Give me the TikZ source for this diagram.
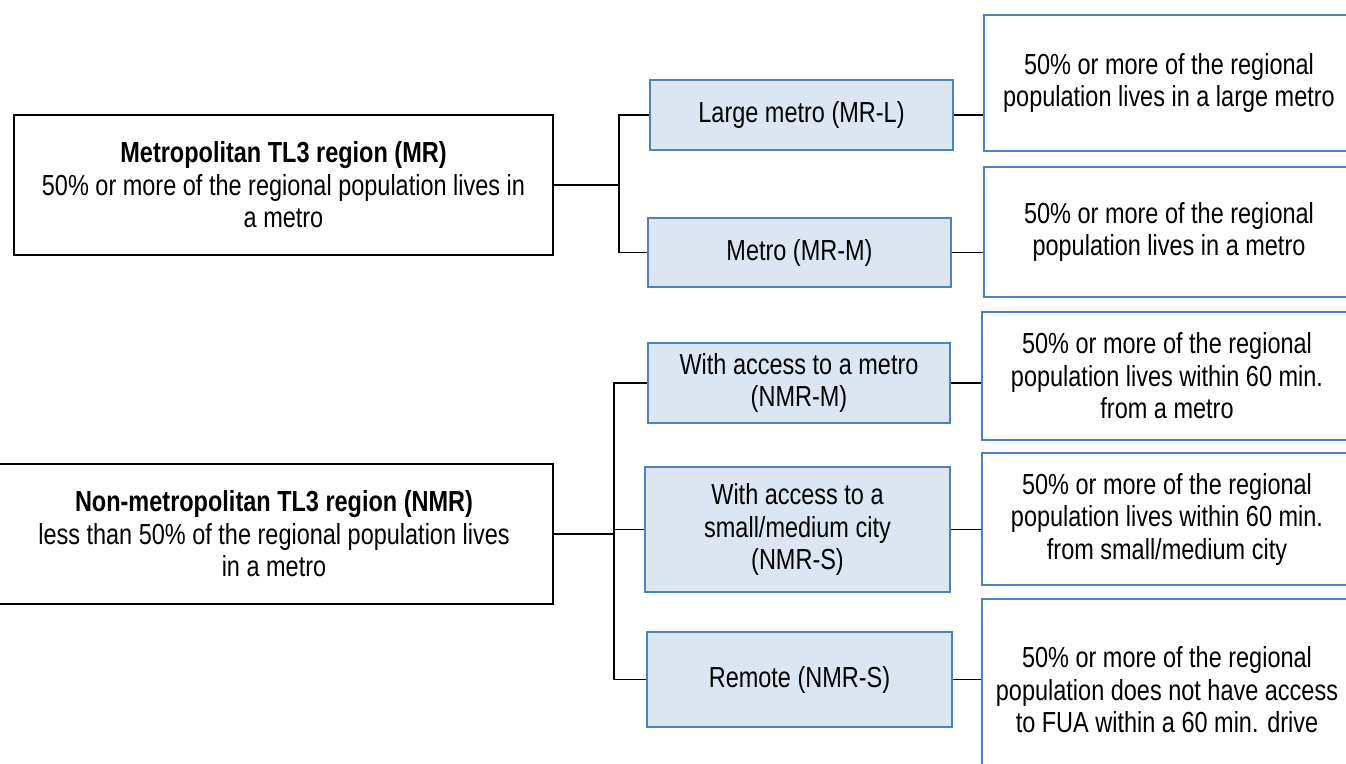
\documentclass[tikz,border=0pt]{standalone}
\usepackage{fontspec}
\setmainfont{Liberation Sans}[FakeStretch=0.81]
\definecolor{boxblue}{HTML}{4F81BD}
\definecolor{boxfill}{HTML}{DCE6F2}
\tikzset{
  regionbox/.style={draw=black, line width=1.8pt, align=center, inner sep=0pt},
  typebox/.style={draw=boxblue, fill=boxfill, line width=1.8pt, align=center, inner sep=0pt},
  defbox/.style={draw=boxblue, fill=white, line width=1.8pt, align=center, inner sep=0pt},
  link/.style={draw=black, line width=1.8pt}
}
\begin{document}
\begin{tikzpicture}[x=1pt, y=-1pt, font={\fontsize{29}{32.5}\selectfont}]
            \useasboundingbox (0,0) rectangle (1346,763);
            \fill[white] (0,0) rectangle (1346,763);
            \clip (0,0) rectangle (1346,763);

            \node[regionbox, minimum width=539pt, minimum height=140pt] (mr) at (283.5,185) {\textbf{Metropolitan TL3 region (MR)}\\50\% or more of the regional population lives in\\a metro};
            \node[regionbox, minimum width=558pt, minimum height=140pt] (nmr) at (274,534) {\textbf{Non-metropolitan TL3 region (NMR)}\\less than 50\% of the regional population lives\\in a metro};

            \node[typebox, minimum width=303pt, minimum height=70pt] (mrl) at (801.5,115) {Large metro (MR-L)};
            \node[typebox, minimum width=303pt, minimum height=69pt] (mrm) at (799.5,252.5) {Metro (MR-M)};
            \node[typebox, minimum width=302pt, minimum height=80pt] (nmrm) at (799,383) {With access to a metro\\(NMR-M)};
            \node[typebox, minimum width=305pt, minimum height=125pt] (nmrs) at (797.5,529.5) {With access to a\\small/medium city\\(NMR-S)};
            \node[typebox, minimum width=305pt, minimum height=95pt] (remote) at (799.5,679.5) {Remote (NMR-S)};

            \node[defbox, minimum width=370pt, minimum height=136pt] (dl) at (1169,83) {50\% or more of the regional\\population lives in a large metro};
            \node[defbox, minimum width=370pt, minimum height=130pt] (dm) at (1169,232) {50\% or more of the regional\\population lives in a metro};
            \node[defbox, minimum width=370pt, minimum height=128pt] (dnm) at (1167,376) {50\% or more of the regional\\population lives within 60 min.\\from a metro};
            \node[defbox, minimum width=370pt, minimum height=132pt] (dns) at (1167,519) {50\% or more of the regional\\population lives within 60 min.\\from small/medium city};
            \node[defbox, minimum width=370pt, minimum height=182pt] (dr) at (1167,690) {50\% or more of the regional\\population does not have access\\to FUA within a 60 min. drive};

            \draw[link] (mr.east) -- ++(65,0) coordinate (mrfork);
            \draw[link] (mrl.west) -| (mrfork) |- (mrm.west);
            \draw[link] (nmr.east) -- ++(60,0) coordinate (nmrfork);
            \draw[link] (nmrm.west) -| (nmrfork) |- (remote.west);
            \draw[link] (nmrfork) |- (nmrs.west);

            \draw[link] (mrl.east) -- (mrl.east -| dl.west);
            \draw[link] (mrm.east) -- (mrm.east -| dm.west);
            \draw[link] (nmrm.east) -- (nmrm.east -| dnm.west);
            \draw[link] (nmrs.east) -- (nmrs.east -| dns.west);
            \draw[link] (remote.east) -- (remote.east -| dr.west);
        \end{tikzpicture}
\end{document}
